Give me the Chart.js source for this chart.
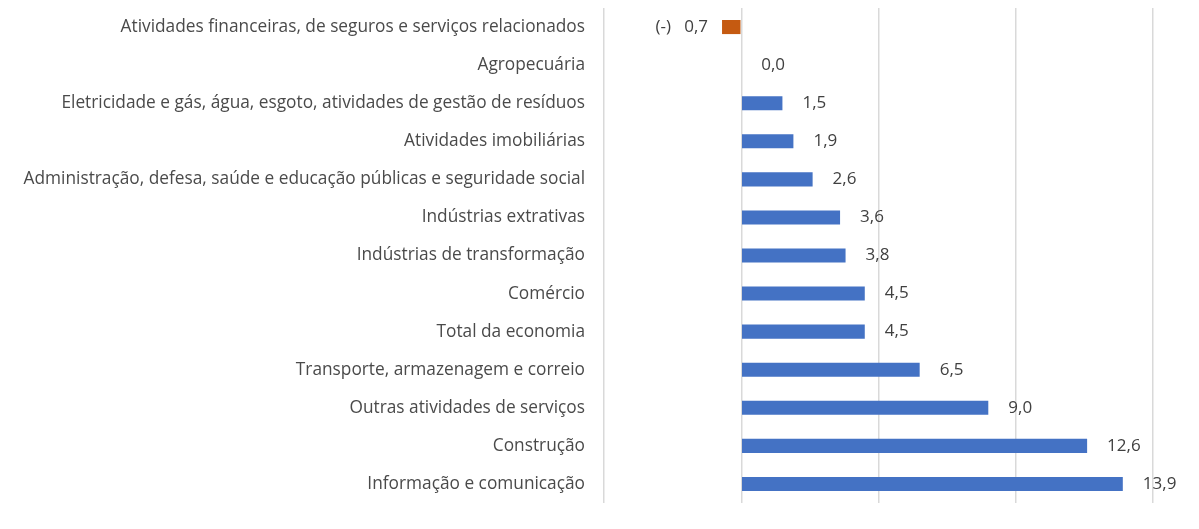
<!DOCTYPE html>
<html>
<head>
<meta charset="utf-8">
<script src="https://cdn.jsdelivr.net/npm/chart.js@4"></script>
<style>
  html, body { margin: 0; padding: 0; background: #fff; }
  #wrap { width: 1199px; height: 529px; }
</style>
</head>
<body>
<div id="wrap"><canvas id="chart" width="1199" height="529"></canvas></div>
<script>
const categories = [
    "Atividades financeiras, de seguros e serviços relacionados",
    "Agropecuária",
    "Eletricidade e gás, água, esgoto, atividades de gestão de resíduos",
    "Atividades imobiliárias",
    "Administração, defesa, saúde e educação públicas e seguridade social",
    "Indústrias extrativas",
    "Indústrias de transformação",
    "Comércio",
    "Total da economia",
    "Transporte, armazenagem e correio",
    "Outras atividades de serviços",
    "Construção",
    "Informação e comunicação"
];
const values = [-0.7, 0.0, 1.5, 1.9, 2.6, 3.6, 3.8, 4.5, 4.5, 6.5, 9.0, 12.6, 13.9];
const valueLabels = ["(-)   0,7", "0,0", "1,5", "1,9", "2,6", "3,6", "3,8", "4,5", "4,5", "6,5", "9,0", "12,6", "13,9"];

const fontFamily = "'Open Sans', sans-serif";
const textColor = "#4a4a4a";

const barLabels = {
    id: "barLabels",
    afterDatasetsDraw(chart) {
        const ctx = chart.ctx;
        const meta = chart.getDatasetMeta(0);
        ctx.save();
        ctx.font = "17px " + fontFamily;
        ctx.fillStyle = "#404040";
        ctx.textBaseline = "middle";
        meta.data.forEach((bar, i) => {
            if (values[i] < 0) {
                ctx.textAlign = "right";
                ctx.fillText(valueLabels[i], bar.x - 14, bar.y);
            } else {
                ctx.textAlign = "left";
                ctx.fillText(valueLabels[i], bar.x + 20, bar.y);
            }
        });
        ctx.restore();
    }
};

const ctx = document.getElementById("chart").getContext("2d");
new Chart(ctx, {
    type: "bar",
    data: {
        labels: categories,
        datasets: [{
            data: values,
            backgroundColor: values.map(v => v < 0 ? "#C55A11" : "#4472C4"),
            barPercentage: 0.37,
            categoryPercentage: 1.0
        }]
    },
    options: {
        indexAxis: "y",
        responsive: false,
        animation: false,
        layout: { autoPadding: false, padding: { top: 8, right: 46, bottom: 26, left: 0 } },
        plugins: {
            legend: { display: false },
            tooltip: { enabled: false }
        },
        scales: {
            x: {
                min: -5,
                max: 15,
                ticks: { display: false, stepSize: 5 },
                grid: { color: "#d9d9d9", lineWidth: 1.5, drawTicks: false },
                border: { display: false },
                afterFit(scale) { scale.height = 0; }
            },
            y: {
                grid: { display: false, drawTicks: true, tickLength: 19 },
                border: { display: false },
                ticks: {
                    color: textColor,
                    padding: 0,
                    font: { family: fontFamily, size: 17.3 }
                },
                afterFit(scale) {
                    scale.width = 604;
                    scale.paddingTop = 0;
                    scale.paddingBottom = 0;
                }
            }
        }
    },
    plugins: [barLabels]
});
</script>
</body>
</html>
